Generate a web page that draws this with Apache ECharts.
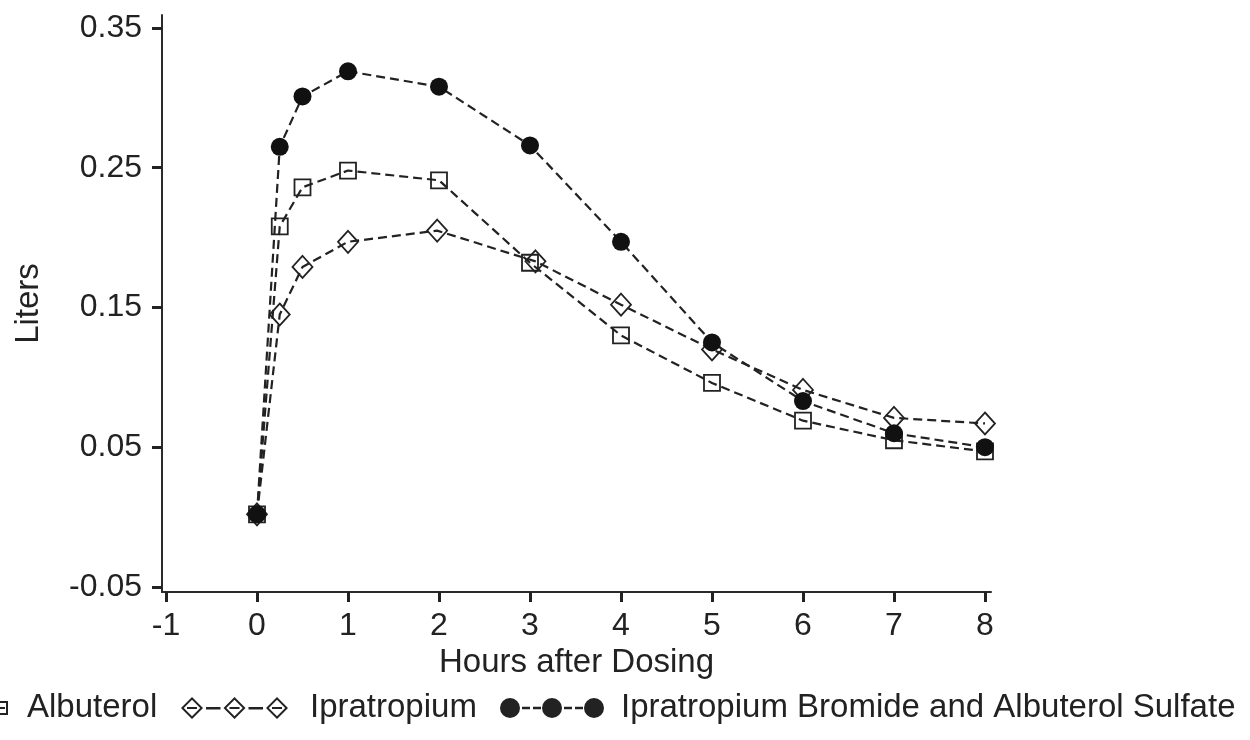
<!DOCTYPE html>
<html>
<head>
<meta charset="utf-8">
<script src="https://cdn.jsdelivr.net/npm/echarts@6/dist/echarts.min.js"></script>
<style>
html,body{margin:0;padding:0;background:#fff;}
#chart{width:1250px;height:740px;}
</style>
</head>
<body>
<div id="chart"></div>
<script>
// ---- data ----
var hours = [0, 0.25, 0.5, 1, 2, 3, 4, 5, 6, 7, 8];
var ipratropiumHours = [0, 0.25, 0.5, 1, 1.98, 3.06, 4, 5, 6, 7, 8];
var albuterol = [0.002, 0.208, 0.236, 0.248, 0.241, 0.182, 0.130, 0.096, 0.069, 0.055, 0.047];
var ipratropium = [0.002, 0.145, 0.179, 0.197, 0.205, 0.183, 0.152, 0.120, 0.091, 0.071, 0.067];
var combination = [0.002, 0.265, 0.301, 0.319, 0.308, 0.266, 0.197, 0.125, 0.083, 0.060, 0.050];
var seriesNames = ['Albuterol', 'Ipratropium', 'Ipratropium Bromide and Albuterol Sulfate'];
var xTicks = [-1, 0, 1, 2, 3, 4, 5, 6, 7, 8];
var yTicks = [-0.05, 0.05, 0.15, 0.25, 0.35];
var xTitle = 'Hours after Dosing';
var yTitle = 'Liters';

function pairs(xs, ys) { return xs.map(function (x, i) { return [x, ys[i]]; }); }

var FONT = '"Liberation Sans", Arial, sans-serif';
var INK = '#222';

// legend icon paths (filled shapes)
function sq(x, s) { return 'M' + x + ',0 L' + (x + s) + ',0 L' + (x + s) + ',' + s + ' L' + x + ',' + s + ' Z M' + (x + 2) + ',2 L' + (x + 2) + ',' + (s - 2) + ' L' + (x + s - 2) + ',' + (s - 2) + ' L' + (x + s - 2) + ',2 Z '; }
function bar(x0, x1, y0, y1) { return 'M' + x0 + ',' + y0 + ' L' + x1 + ',' + y0 + ' L' + x1 + ',' + y1 + ' L' + x0 + ',' + y1 + ' Z '; }
var squareIcon = 'path://' + sq(0, 14) + sq(45, 14) + sq(90, 14) +
  bar(18, 27, 6, 8) + bar(32, 41, 6, 8) + bar(63, 72, 6, 8) + bar(77, 86, 6, 8) +
  bar(3, 11, 6, 8) + bar(48, 56, 6, 8) + bar(93, 101, 6, 8);
function dia(cx) {
  return 'M' + cx + ',0 L' + (cx + 11) + ',11 L' + cx + ',22 L' + (cx - 11) + ',11 Z M' + cx + ',2.8 L' + (cx - 8.2) + ',11 L' + cx + ',19.2 L' + (cx + 8.2) + ',11 Z ';
}
var diamondIcon = 'path://' + dia(11) + dia(53.5) + dia(96) +
  bar(25, 39.5, 10, 12.4) + bar(67.5, 82, 10, 12.4) +
  bar(6, 16, 10, 12) + bar(48.5, 58.5, 10, 12) + bar(91, 101, 10, 12);
function circ(cx) { return 'M' + (cx - 10) + ',10 A10,10 0 1,0 ' + (cx + 10) + ',10 A10,10 0 1,0 ' + (cx - 10) + ',10 Z '; }
var circleIcon = 'path://' + circ(10) + circ(52) + circ(94) +
  bar(22, 30, 8.8, 11.2) + bar(33, 41, 8.8, 11.2) + bar(64, 72, 8.8, 11.2) + bar(75, 83, 8.8, 11.2);

function legendFor(name, left, icon, w, h, pad) {
  return {
    data: [name], left: left, top: 691, orient: 'horizontal', padding: 0,
    icon: icon, itemWidth: w, itemHeight: h, selectedMode: false,
    itemStyle: { color: INK, borderWidth: 0, borderColor: 'transparent' },
    textStyle: { color: INK, fontSize: 33, fontFamily: FONT, lineHeight: 34, padding: [0, 0, 0, pad] }
  };
}

var chart = echarts.init(document.getElementById('chart'), null, { renderer: 'canvas' });
var lineBase = { color: '#222', width: 2.2, type: [9, 5] };
chart.setOption({
  animation: false,
  backgroundColor: '#fff',
  grid: { left: 162, right: 259, top: 15, bottom: 148, containLabel: false },
  legend: [
    legendFor(seriesNames[0], -96, squareIcon, 104, 14, 14),
    legendFor(seriesNames[1], 181, diamondIcon, 107, 22, 17),
    legendFor(seriesNames[2], 500, circleIcon, 104, 20, 12)
  ],
  xAxis: {
    type: 'value', min: -1.044, max: 8.066,
    name: xTitle, nameLocation: 'middle', nameGap: 52,
    nameTextStyle: { color: INK, fontSize: 33, fontFamily: FONT },
    axisLine: { show: true, onZero: false, lineStyle: { color: '#2a2a2a', width: 2 } },
    axisTick: { show: true, length: 10, customValues: xTicks, lineStyle: { color: INK, width: 3 } },
    axisLabel: { customValues: xTicks, margin: 18, color: INK, fontSize: 32, fontFamily: FONT,
      formatter: function (v) { return String(Math.round(v)); } },
    splitLine: { show: false }
  },
  yAxis: {
    type: 'value', min: -0.0536, max: 0.3593,
    name: yTitle, nameLocation: 'middle', nameGap: 117, nameRotate: 90,
    nameTextStyle: { color: INK, fontSize: 33, fontFamily: FONT, padding: [0, 0, 0, 0] },
    axisLine: { show: true, onZero: false, lineStyle: { color: '#2a2a2a', width: 2 } },
    axisTick: { show: true, length: 10, customValues: yTicks, lineStyle: { color: INK, width: 3 } },
    axisLabel: { customValues: yTicks, margin: 20, color: INK, fontSize: 32, fontFamily: FONT,
      formatter: function (v) { return v.toFixed(2); } },
    splitLine: { show: false }
  },
  series: [
    {
      name: seriesNames[0], type: 'line', data: pairs(hours, albuterol),
      symbol: 'rect', symbolSize: 16,
      itemStyle: { color: 'transparent', borderColor: INK, borderWidth: 1.8 },
      lineStyle: lineBase, z: 2
    },
    {
      name: seriesNames[1], type: 'line', data: pairs(ipratropiumHours, ipratropium),
      symbol: 'diamond', symbolSize: [20, 22],
      itemStyle: { color: 'transparent', borderColor: INK, borderWidth: 1.8 },
      lineStyle: lineBase, z: 3
    },
    {
      name: seriesNames[2], type: 'line', data: pairs(hours, combination),
      symbol: 'circle', symbolSize: 18,
      itemStyle: { color: '#111', borderWidth: 0 },
      lineStyle: lineBase, z: 4
    }
  ]
});
</script>
</body>
</html>
